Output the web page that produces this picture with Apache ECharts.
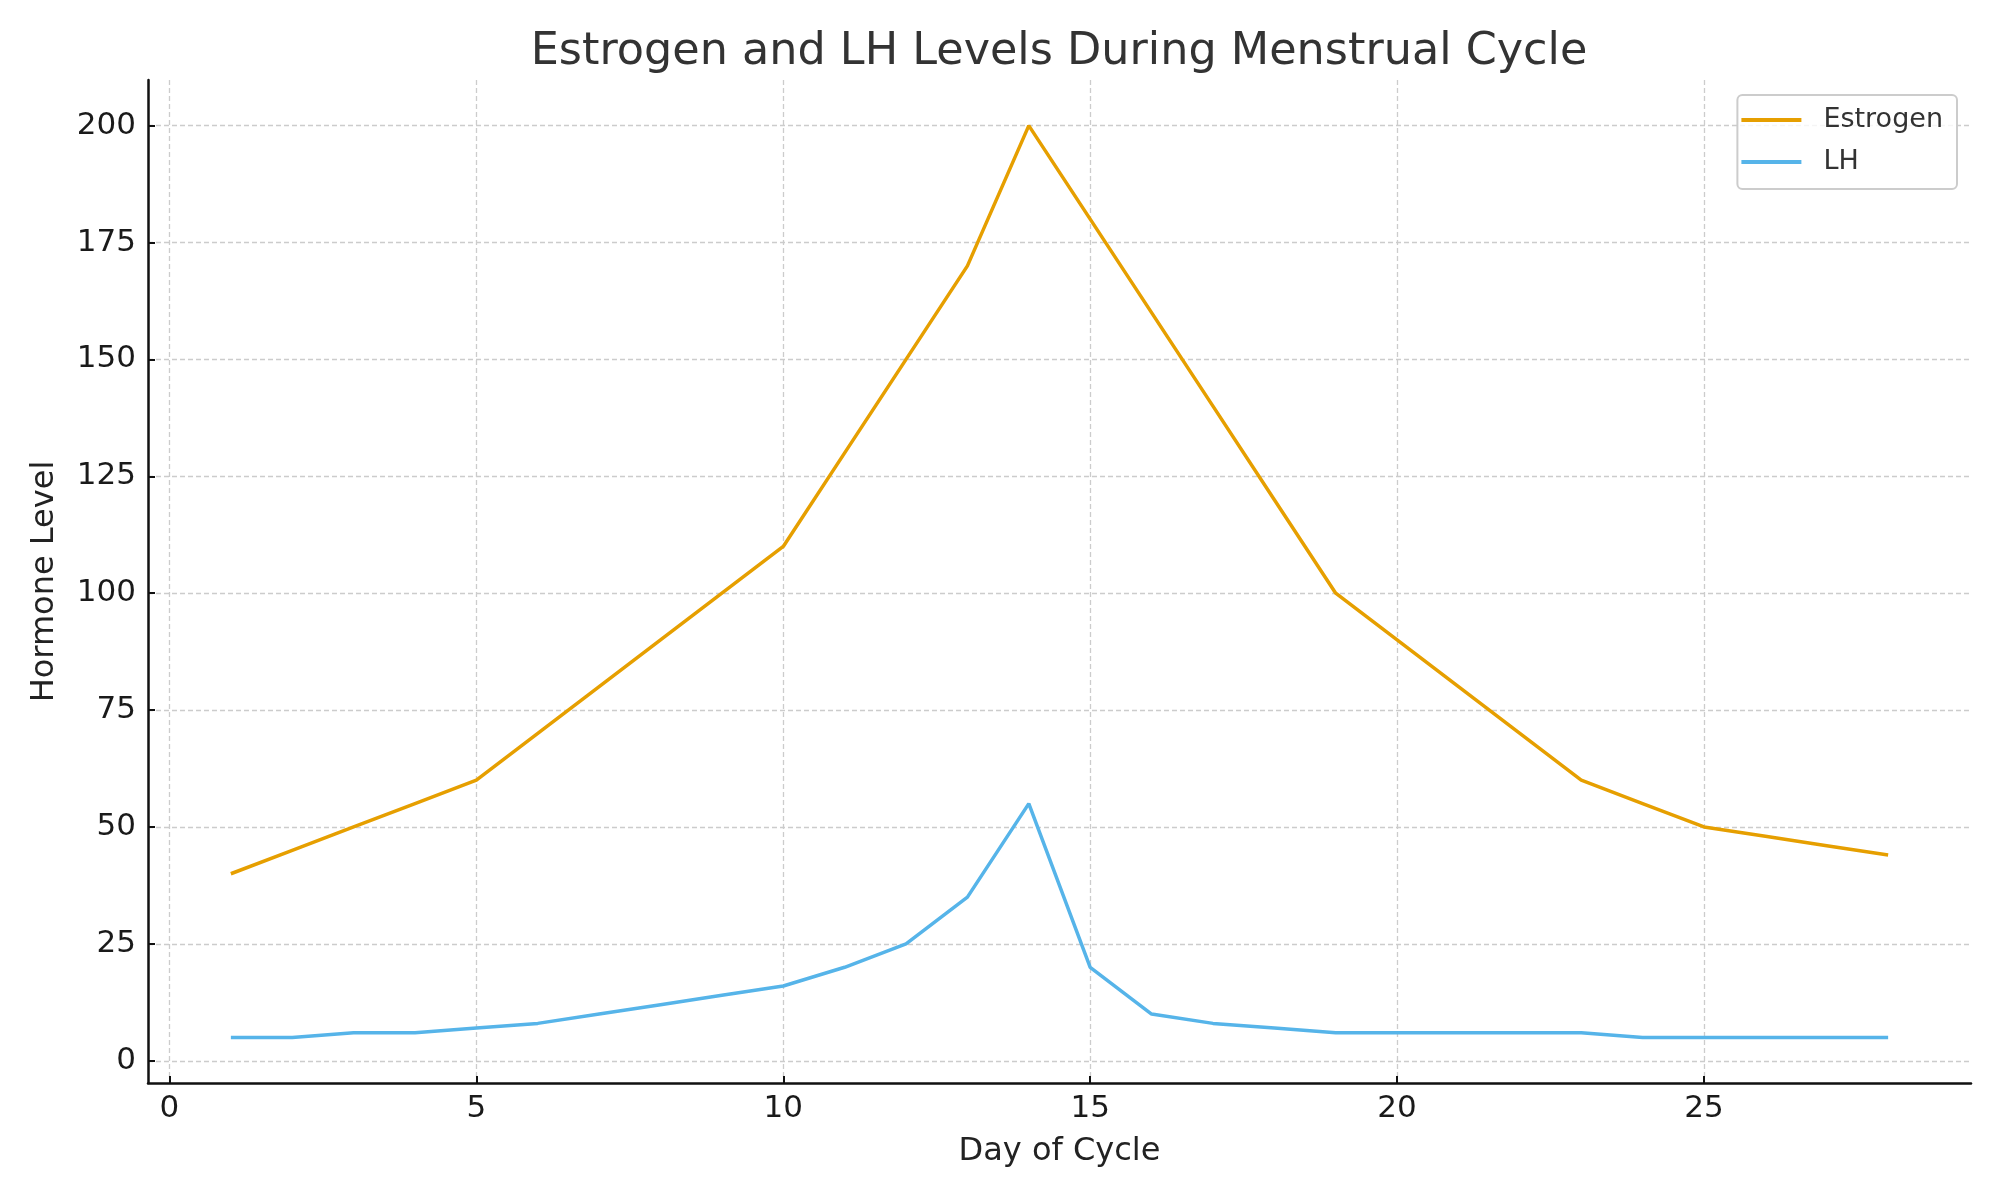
<!DOCTYPE html>
<html>
<head>
<meta charset="utf-8">
<script src="https://cdn.jsdelivr.net/npm/echarts@6/dist/echarts.min.js"></script>
<style>
  html, body { margin: 0; padding: 0; background: #fff; }
  #main { width: 2000px; height: 1200px; }
</style>
</head>
<body>
<div id="main"></div>
<script>
// data
const days = [1, 2, 3, 4, 5, 6, 7, 8, 9, 10, 11, 12, 13, 14, 15, 16, 17, 18, 19, 20, 21, 22, 23, 24, 25, 26, 27, 28];
const estrogen = [40, 45, 50, 55, 60, 70, 80, 90, 100, 110, 130, 150, 170, 200, 180, 160, 140, 120, 100, 90, 80, 70, 60, 55, 50, 48, 46, 44];
const lh = [5, 5, 6, 6, 7, 8, 10, 12, 14, 16, 20, 25, 35, 55, 20, 10, 8, 7, 6, 6, 6, 6, 6, 5, 5, 5, 5, 5];
const xTicks = [0, 5, 10, 15, 20, 25];
const yTicks = [0, 25, 50, 75, 100, 125, 150, 175, 200];

const FONT = "DejaVu Sans";
const gridLine = { show: true, lineStyle: { color: "#cccccc", width: 1.3, type: [5, 3] } };

const chart = echarts.init(document.getElementById("main"));
chart.setOption({
  animation: false,
  backgroundColor: "#ffffff",
  textStyle: { fontFamily: FONT },
  title: {
    text: "Estrogen and LH Levels During Menstrual Cycle",
    left: 1054,
    top: 25,
    textAlign: "center",
    textStyle: { fontFamily: FONT, fontSize: 44.5, fontWeight: "normal", color: "#333333" },
  },
  legend: {
    orient: "vertical",
    right: 43,
    top: 95,
    padding: [10, 14, 12, 4],
    itemGap: 12,
    itemWidth: 60,
    itemHeight: 4,
    icon: "rect",
    borderColor: "#cccccc",
    borderWidth: 2,
    borderRadius: 5,
    backgroundColor: "rgba(255,255,255,0.8)",
    textStyle: { fontFamily: FONT, fontSize: 27, color: "#333333", lineHeight: 30, padding: [0, 0, 0, 17] },
    data: ["Estrogen", "LH"],
  },
  grid: { left: 148, right: 29, top: 80, bottom: 117, containLabel: false },
  xAxis: {
    type: "value",
    min: -0.35,
    max: 29.35,
    name: "Day of Cycle",
    nameLocation: "middle",
    nameGap: 53,
    nameTextStyle: { fontFamily: FONT, fontSize: 32, color: "#222222" },
    axisLine: { show: true, onZero: false, lineStyle: { color: "#111111", width: 2.5 } },
    axisTick: { show: true, inside: true, length: 7, customValues: xTicks, lineStyle: { color: "#111111", width: 2 } },
    axisLabel: { customValues: xTicks, margin: 10, fontFamily: FONT, fontSize: 31, color: "#1a1a1a" },
    splitLine: gridLine,
  },
  yAxis: {
    type: "value",
    min: -4.75,
    max: 209.75,
    name: "Hormone Level",
    nameLocation: "middle",
    nameGap: 87,
    nameTextStyle: { fontFamily: FONT, fontSize: 32, color: "#222222" },
    axisLine: { show: true, onZero: false, lineStyle: { color: "#111111", width: 2.5 } },
    axisTick: { show: true, inside: true, length: 7, customValues: yTicks, lineStyle: { color: "#111111", width: 2 } },
    axisLabel: { customValues: yTicks, margin: 12, fontFamily: FONT, fontSize: 31, color: "#1a1a1a" },
    splitLine: gridLine,
  },
  series: [
    {
      name: "Estrogen",
      type: "line",
      symbol: "none",
      color: "#E69F00",
      lineStyle: { color: "#E69F00", width: 3.5 },
      data: days.map((d, i) => [d, estrogen[i]]),
    },
    {
      name: "LH",
      type: "line",
      symbol: "none",
      color: "#56B4E9",
      lineStyle: { color: "#56B4E9", width: 3.5 },
      data: days.map((d, i) => [d, lh[i]]),
    },
  ],
});
</script>
</body>
</html>
